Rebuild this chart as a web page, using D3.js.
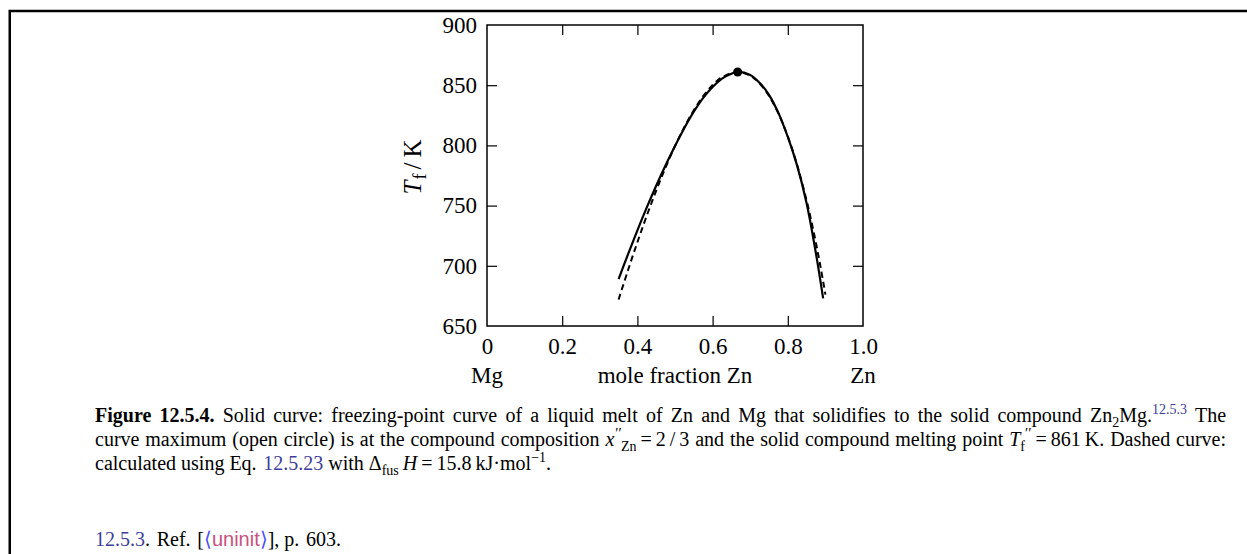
<!DOCTYPE html>
<html><head><meta charset="utf-8">
<script src="https://cdn.jsdelivr.net/npm/d3@7"></script>
<style>
html,body{margin:0;padding:0;background:#fff;}
body{width:1247px;height:554px;overflow:hidden;position:relative;font-family:"Liberation Serif","Times New Roman",serif;}
.cap{position:absolute;left:95px;width:1131px;font-size:20px;line-height:23.6px;white-space:nowrap;color:#000;}
.just{text-align:justify;text-align-last:justify;white-space:normal;}
.lnk{color:#3d3d99;}
.sans{font-family:"Liberation Sans",Arial,sans-serif;color:#c8527e;}
.br{color:#4d4dff;}
sub,sup{line-height:0;}
</style></head><body>
<svg id="chart" width="1247" height="554" style="position:absolute;left:0;top:0"></svg>
<div class="cap just" style="top:404px"><b>Figure 12.5.4.</b> Solid curve: freezing-point curve of a liquid melt of Zn and Mg that solidifies to the solid compound Zn<sub style="font-size:14px">2</sub>Mg.<sup class="lnk" style="font-size:14px">12.5.3</sup> The</div>
<div class="cap just" style="top:428px">curve maximum (open circle) is at the compound composition <i>x</i><sup style="font-size:15px"><i>′′</i></sup><sub style="font-size:14px">Zn</sub>&#8201;=&#8201;2&#8201;/&#8201;3 and the solid compound melting point <i>T</i><sub style="font-size:14px">f</sub><sup style="font-size:15px">′′</sup>&#8201;=&#8201;861&#8201;K. Dashed curve:</div>
<div class="cap" style="top:451.5px">calculated using Eq. &#8202;<span class="lnk">12.5.23</span> with &#916;<sub style="font-size:14px">fus</sub>&#8201;<i>H</i>&#8201;=&#8201;15.8&#8201;kJ&#183;mol<sup style="font-size:14px">&#8722;1</sup>.</div>
<div class="cap" style="top:528px"><span class="lnk">12.5.3</span>. &#8202;Ref. &#8202;[<span class="sans"><span class="br">&#10216;</span>uninit<span class="br">&#10217;</span></span>], p. &#8202;603.</div>
<script>
// ---- data ----
const xTicks = [0, 0.2, 0.4, 0.6, 0.8, 1.0];
const xTickLabels = ["0", "0.2", "0.4", "0.6", "0.8", "1.0"];
const yTicks = [650, 700, 750, 800, 850, 900];
const solidX = [0.35, 0.375, 0.40, 0.425, 0.45, 0.475, 0.50, 0.525, 0.55, 0.575, 0.60, 0.625, 0.65, 0.667, 0.70, 0.725, 0.75, 0.775, 0.80, 0.825, 0.85, 0.875, 0.894];
const solidT = [689, 709.5, 729.5, 748.5, 766.5, 783.5, 799.5, 814.5, 828, 839.5, 848.5, 855.5, 859.5, 861, 858.5, 852, 842, 827, 807, 783, 752, 710, 673];
const dashedX = [0.35, 0.375, 0.40, 0.425, 0.45, 0.475, 0.50, 0.525, 0.55, 0.575, 0.60, 0.625, 0.6667, 0.70, 0.725, 0.75, 0.775, 0.80, 0.825, 0.85, 0.8625, 0.875, 0.8875, 0.90];
const dashedT = [672, 696.3, 719.6, 741.7, 762.4, 781.8, 799.5, 815.3, 829.2, 840.9, 850.1, 856.6, 861, 858.0, 851.5, 841.1, 826.6, 807.5, 783.5, 754.2, 737.3, 718.7, 698.4, 676.1];
const maxPoint = [2/3, 861];
const bottomLabels = ["Mg", "mole fraction Zn", "Zn"];
const bottomLabelX = [0, 0.5, 1.0];

// ---- drawing ----
const svg = d3.select("#chart");
svg.append("path").attr("d", "M9.75,554 V11 H1247").attr("fill", "none").attr("stroke", "#000").attr("stroke-width", 2.5);

const x = d3.scaleLinear().domain([0, 1]).range([487, 863]);
const y = d3.scaleLinear().domain([650, 900]).range([326, 25]);
const F = "'Liberation Serif','Times New Roman',serif";

function styleAxis(g) {
  g.select(".domain").remove();
  g.selectAll(".tick line").attr("stroke", "#000").attr("stroke-width", 1.2);
  g.selectAll(".tick text").attr("font-family", F).attr("font-size", 23).attr("fill", "#000");
}
const inner = [0.2, 0.4, 0.6, 0.8];
const innerY = [700, 750, 800, 850];

svg.append("g").attr("transform", `translate(0,${y(650)})`)
  .call(d3.axisBottom(x).tickValues(inner).tickSize(-10).tickFormat(""))
  .call(styleAxis);
svg.append("g").attr("transform", `translate(0,${y(650)})`)
  .call(d3.axisBottom(x).tickValues(xTicks).tickSize(0).tickPadding(12).tickFormat((d, i) => xTickLabels[i]))
  .call(styleAxis);
svg.append("g").attr("transform", `translate(0,${y(900)})`)
  .call(d3.axisTop(x).tickValues(inner).tickSize(-10).tickFormat(""))
  .call(styleAxis);
svg.append("g").attr("transform", `translate(${x(0)},0)`)
  .call(d3.axisLeft(y).tickValues(innerY).tickSize(-10).tickFormat(""))
  .call(styleAxis);
svg.append("g").attr("transform", `translate(${x(0)},0)`)
  .call(d3.axisLeft(y).tickValues(yTicks).tickSize(0).tickPadding(10).tickFormat(d3.format("d")))
  .call(styleAxis);
svg.append("g").attr("transform", `translate(${x(1)},0)`)
  .call(d3.axisRight(y).tickValues(innerY).tickSize(-10).tickFormat(""))
  .call(styleAxis);

svg.append("rect").attr("x", x(0)).attr("y", y(900)).attr("width", x(1) - x(0)).attr("height", y(650) - y(900))
  .attr("fill", "none").attr("stroke", "#000").attr("stroke-width", 1.5);

svg.append("g").selectAll("text").data(bottomLabels).join("text")
  .attr("x", (d, i) => x(bottomLabelX[i])).attr("y", 383)
  .attr("text-anchor", "middle").attr("font-family", F).attr("font-size", 23).text(d => d);

const yl = svg.append("text").attr("transform", "translate(421,167) rotate(-90)")
  .attr("text-anchor", "middle").attr("font-family", F).attr("font-size", 25);
yl.append("tspan").attr("font-style", "italic").text("T");
yl.append("tspan").attr("font-size", 18).attr("dy", 5).attr("dx", 1).text("f");
yl.append("tspan").attr("dy", -5).attr("dx", 4).text("/");
yl.append("tspan").attr("dx", 5).text("K");

const line = d3.line().x(d => x(d[0])).y(d => y(d[1])).curve(d3.curveCatmullRom.alpha(0.5));
svg.append("path").datum(dashedX.map((v, i) => [v, dashedT[i]])).attr("d", line)
  .attr("fill", "none").attr("stroke", "#000").attr("stroke-width", 2).attr("stroke-dasharray", "6,4");
svg.append("path").datum(solidX.map((v, i) => [v, solidT[i]])).attr("d", line)
  .attr("fill", "none").attr("stroke", "#000").attr("stroke-width", 2.2);
svg.append("circle").attr("cx", x(maxPoint[0])).attr("cy", y(maxPoint[1])).attr("r", 4.5).attr("fill", "#000");
</script>
</body></html>
